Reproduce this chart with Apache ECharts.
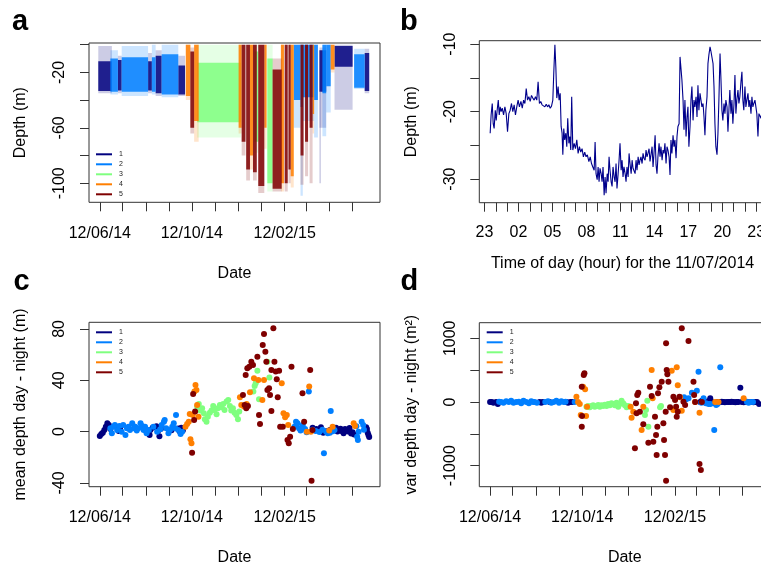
<!DOCTYPE html>
<html>
<head>
<meta charset="utf-8">
<script src="https://cdn.jsdelivr.net/npm/echarts@6/dist/echarts.min.js"></script>
<style>
  html, body { margin: 0; padding: 0; background: #fff; }
  #main { width: 761px; height: 568px; }
</style>
</head>
<body>
<div id="main"></div>
<script>
(function () {
  'use strict';

  // behaviour classes (jet palette, 5 colours)
  const classNames = ['1', '2', '3', '4', '5'];
  const classColors = ['#00007F', '#007FFF', '#7FFF7F', '#FF7F00', '#7F0000'];

  // date axis: days since 12/06/2014, ticks on the 12th of each month
  const dateTickDays = [0, 30, 61, 92, 122, 153, 183, 214, 245, 273, 304, 334];
  const dateLabelDays = [0, 122, 245];
  const dateLabelText = ['12/06/14', '12/10/14', '12/02/15'];

  // hour axis for panel b: minutes since 23:00 the day before
  const hourTickMinutes = [0, 60, 120, 180, 240, 300, 360, 420, 480, 540, 600, 660, 720,
    780, 840, 900, 960, 1020, 1080, 1140, 1200, 1260, 1320, 1380, 1440];
  const hourLabelMinutes = [0, 180, 360, 540, 720, 900, 1080, 1260, 1440];
  const hourLabelText = ['23', '02', '05', '08', '11', '14', '17', '20', '23'];

  // panel a: depth envelopes per class
  // [startDay, endDay, sparseTop, sparseBottom, denseTop, denseBottom] (m)
  const diveBands1 = [
    [-2, 16, -1, -35, -12, -33.5], [24, 29, -8, -35, -11, -33], [64, 69, -6, -35, -12, -33],
    [74, 82, -4, -37, -8, -35], [104, 113, -8, -37, -15, -36], [291, 300, -2, -60, -4, -34],
    [291, 293, -34, -100, -34, -34], [311, 335, 0, -47, -1, -16], [351, 357, -3, -35, -6, -33.5]
  ];
  const diveBands2 = [
    [14, 24, -4, -36, -10, -34], [29, 64, -1, -37, -9, -34], [69, 74, 0, -36, -9, -34],
    [82, 104, 0, -38, -7, -36], [257, 266, 0, -60, 0, -40], [266, 269, 0, -109, 0, -45],
    [269, 284, 0, -55, 0, -38], [284, 289, 0, -67, 0, -40], [295, 300, 0, -66, 0, -35],
    [300, 306, 0, -49, 0, -30], [337, 351, -3, -32, -7, -31]
  ];
  const diveBands3 = [
    [129, 187, 0, -67, -13, -56], [205, 210, 0, -78, -5, -70], [222, 229, 0, -106, -10, -100]
  ];
  const diveBands4 = [
    [114, 120, 0, -40, 0, -37], [125, 131, 0, -70, 0, -55], [184, 188, 0, -64, 0, -60],
    [199, 203, 0, -90, 0, -80], [218, 221, 0, -75, 0, -60], [240, 244, 0, -106, 0, -100],
    [253, 257, 0, -103, 0, -95], [282, 284, 0, -64, 0, -50], [306, 311, 0, -20, 0, -18]
  ];
  const diveBands5 = [
    [120, 125, -2, -64, -5, -60], [188, 193, 0, -80, 0, -70], [194, 199, 0, -98, 0, -90],
    [203, 208, 0, -98, 0, -92], [210, 218, 0, -107, 0, -102], [229, 241, -10, -106, -18, -104],
    [245, 249, 0, -106, 0, -100], [250, 253, 0, -100, 0, -90], [266, 270, 0, -101, 0, -80],
    [272, 276, 0, -95, 0, -70], [278, 282, 0, -100, 0, -60]
  ];

  // panel b: depth (m) on 11/07/2014, [minutes since 23:00, depth]
  const dayTrack = [
    [30, -23.2], [35, -20.5], [41, -18.8], [46, -21.8], [51, -22.5], [57, -19.8], [62, -21.3], [67, -19.8],
    [73, -18.3], [78, -20.5], [83, -19.3], [88, -20], [94, -19.5], [101, -20.5], [108, -19.3], [115, -20.3],
    [122, -23], [129, -20.3], [136, -19.8], [143, -18.8], [150, -20], [157, -19], [164, -20.5], [171, -19.3],
    [178, -18.3], [185, -19.3], [193, -18.5], [200, -19.5], [207, -18.3], [214, -18.8], [221, -16.6], [228, -18.3],
    [235, -17.8], [242, -18.5], [249, -17.6], [256, -18], [263, -18.3], [270, -17.8], [277, -18.3], [284, -15.6],
    [291, -18.8], [298, -18.5], [305, -19], [313, -18.8], [320, -19.3], [327, -18.9], [334, -19.3], [341, -19],
    [348, -19.5], [355, -19.2], [362, -18.3], [367, -14.3], [373, -10.1], [378, -13.4], [383, -18], [390, -16.3],
    [395, -18.3], [401, -17.3], [406, -22.2], [411, -23.2], [415, -26.4], [420, -22.5], [425, -24.2], [431, -23.2],
    [436, -25.2], [441, -21], [447, -24.7], [452, -23.7], [457, -25.7], [462, -17.8], [468, -25.7], [475, -24.7],
    [482, -25.5], [489, -24.2], [496, -26.2], [503, -25.2], [510, -26], [517, -25.5], [524, -26.7], [531, -26],
    [538, -26.7], [545, -26.4], [553, -27.4], [560, -26.7], [567, -27.7], [574, -28.2], [581, -28.7], [586, -24.5],
    [591, -29.2], [597, -30.1], [602, -28.2], [607, -30.4], [612, -28.4], [618, -29.2], [623, -30.4], [628, -28.2],
    [634, -32.4], [639, -29.7], [644, -32.1], [650, -29.2], [655, -30.4], [660, -26.7], [665, -28.7], [671, -30.4],
    [676, -31.1], [681, -28.2], [687, -29.7], [692, -30.4], [697, -27.7], [702, -31.4], [708, -29.2], [713, -27.2],
    [718, -24.7], [724, -28.7], [729, -27.2], [734, -29.7], [739, -28.2], [745, -29.2], [750, -30.4], [755, -28.2],
    [761, -29.7], [766, -26.2], [771, -27.7], [777, -29.2], [782, -27.2], [787, -28.4], [792, -28.2], [798, -29.2],
    [803, -27.2], [808, -28.7], [814, -26.7], [819, -27.9], [824, -27.2], [829, -26.7], [835, -27.7], [840, -26.2],
    [845, -26.9], [851, -27.2], [856, -25.7], [861, -26.7], [866, -26.2], [872, -25.5], [877, -27.4], [882, -27.2],
    [888, -25.2], [893, -28.2], [898, -26.2], [904, -23.5], [909, -27.9], [914, -29.2], [919, -26.7], [925, -24.7],
    [930, -26.7], [935, -25.2], [941, -27.2], [946, -25.7], [951, -26.2], [956, -24.7], [962, -27.7], [967, -25.2],
    [972, -25.7], [978, -26.7], [983, -29.4], [988, -24.2], [993, -26.2], [999, -23.5], [1004, -25.2], [1009, -24.2],
    [1015, -26.9], [1020, -23.7], [1025, -22.2], [1031, -21.8], [1036, -11.9], [1041, -12.1], [1046, -15.3], [1052, -18.3],
    [1057, -22.7], [1062, -18.3], [1068, -23.7], [1073, -20.8], [1078, -19.3], [1083, -25.2], [1089, -22.2], [1094, -18.3],
    [1099, -16.3], [1105, -21.3], [1110, -18.3], [1115, -19.3], [1121, -17.8], [1126, -20.8], [1131, -16.1], [1136, -19.8],
    [1142, -17.3], [1147, -18.3], [1152, -19.3], [1158, -18.8], [1163, -20.8], [1168, -23.5], [1173, -19.8], [1179, -17.8],
    [1184, -12.9], [1189, -11.6], [1195, -10.4], [1200, -11.1], [1205, -10.9], [1211, -12.9], [1216, -16.3], [1221, -21.8],
    [1226, -25.2], [1232, -26.4], [1237, -23.2], [1242, -18.3], [1248, -11.4], [1253, -15.3], [1258, -19.8], [1263, -21.3],
    [1269, -18.8], [1274, -20.3], [1279, -18.3], [1285, -19.3], [1290, -23], [1295, -19.8], [1300, -16.8], [1306, -20.3],
    [1311, -18.3], [1316, -21.8], [1322, -18.8], [1327, -14.6], [1332, -20.3], [1337, -18.3], [1343, -16.8], [1348, -18.8],
    [1353, -17.8], [1359, -15.6], [1364, -14.1], [1369, -18.3], [1374, -19.8], [1380, -16.3], [1385, -19.3], [1390, -18.3],
    [1396, -17.3], [1401, -19.3], [1406, -18.3], [1412, -20.3], [1417, -17.8], [1422, -19.3], [1427, -18.8], [1433, -18.3],
    [1438, -19.3], [1443, -20.3], [1449, -23.7], [1454, -20.3], [1459, -20.5], [1465, -21], [1470, -20]
  ];

  // panel c: mean depth day - night (m), [day, value]
  const meanDiff1 = [
    [0, -3.4], [2, -1.8], [4, -0.8], [6, 1.3], [8, 3.9], [10, 6.5], [12, 5.2], [14, 2], [24, 2.1], [25, 0.5],
    [27, 3.2], [66, -2.6], [67, 1.2], [70, 3.1], [75, 4.2], [77, 0.4], [79, -3.6], [81, 2.2], [95, 1.1], [104, 2.4],
    [106, 0.2], [108, 3], [110, 0.8], [282, 3], [287, 2], [290, 1.2], [293, 3.4], [296, -0.8], [300, 0.4], [305, 1.2],
    [311, 2.4], [313, 3.1], [315, 0.2], [317, 1.4], [319, 2.2], [321, 0.3], [323, -1.2], [325, 2], [327, 1], [329, 0.2],
    [331, 2.8], [333, -1.5], [335, -0.4], [337, -2.2], [353, 3.4], [354, 2], [355, -0.8], [356, -2.6], [357, -4.2]
  ];
  const meanDiff2 = [
    [14, 2.6], [16, -1.3], [18, 3.9], [20, 5.2], [23, 1.3], [26, 4.4], [29, 0], [31, 5.2], [34, -2.6], [36, 2.6],
    [38, 3.9], [40, 1.3], [43, 6.5], [45, 2.6], [47, 3.9], [49, 0.8], [51, 2.6], [54, 6.5], [56, 4.4], [58, 1.3],
    [60, 3.9], [62, -1.3], [65, 1.3], [71, 3.9], [76, 0], [80, 1.8], [82, 5.2], [85, 7.8], [86, 9.1], [88, 2.6],
    [91, -1.3], [93, 1.3], [96, 3.9], [98, 6.5], [100, 2.6], [101, 13], [104, 1.3], [107, -1.8], [109, 0], [258, 3.9],
    [260, 7.8], [262, 6.5], [264, 2.6], [266, 0.8], [269, 5.2], [272, 2.1], [274, -0.5], [277, 31.2], [282, 1.5], [286, 0.5],
    [291, -0.2], [295, 1.5], [297, -16.9], [300, 0], [302, -1.3], [305, -0.8], [306, 16.1], [309, 0.4], [311, 1.3], [340, 4.2],
    [341, -3.9], [342, -6.5], [343, 0], [347, 7.8], [349, 5.2], [350, 1.5]
  ];
  const meanDiff3 = [
    [129, 19.5], [131.2, 21.6], [133.4, 16.4], [135.6, 18.2], [137.9, 14.3], [139.2, 9.6], [141.4, 7.8], [143.2, 11.7],
    [145.8, 14.8], [148, 16.4], [150.3, 20], [152, 16.9], [154.7, 13.5], [156.5, 18.2], [159.1, 20.8], [161.3, 19],
    [163.6, 21.6], [165.3, 16.9], [168, 23.4], [170.2, 24.7], [172.4, 20], [174.2, 16.4], [176.4, 18.2], [178.6, 14.8],
    [180.9, 13], [183.1, 9.6], [184.8, 15.6], [203.5, 31.2], [205.2, 35.6], [206.6, 37.7], [208.8, 47.5], [211, 25.2],
    [222.1, 54.5], [224.7, 42.1]
  ];
  const meanDiff4 = [
    [113.5, 3.9], [115.7, 6], [117.9, 7.8], [119.2, 13.8], [120.1, -6], [121.5, -9.1], [123.2, 13], [125.4, 31.2],
    [126.8, 36.4], [128.1, 32.5], [129, 20.8], [130.8, 11.7], [185.7, 26.8], [187.5, 20.8], [191, 19.5], [194.6, 21.6],
    [199, 30.6], [204.3, 41.6], [210.1, 40.3], [215.4, 24.7], [217.6, 40.3], [241.1, 37.7], [243.4, 14.3], [245.6, 11.2],
    [247.8, 13], [249.6, 5.2], [274.4, 0], [277.5, 35.1], [279.7, 0], [304, 0.8], [308.5, 3.9], [336.4, 6.5], [338.2, 4.4]
  ];
  const meanDiff5 = [
    [122.3, -16.4], [123.7, 29.4], [125, 9.1], [126.3, 15.6], [189.7, 28.6], [191.9, 20.8], [194.1, 18.2], [196.3, 20],
    [193.3, 44.2], [195.5, 49.4], [198.1, 50.6], [200.8, 54.5], [203, 51.9], [208.8, 58.4], [211, 13], [212.3, 6],
    [215.9, 67.5], [217.6, 76.1], [219.4, 62.3], [220.7, 54.5], [222.1, 32.5], [224.3, 33.8], [225.6, 28.6], [227.4, 48],
    [230, 80.5], [231.4, 54.5], [233.2, 46.8], [234.5, 40.8], [235.8, 26.8], [237.6, 47.5], [227.4, 16.1], [239, 3.9],
    [242.5, 3.9], [248.7, -6.5], [250.4, -9.1], [252.2, -3.9], [254, 50.6], [255.8, 2.1], [268.6, 29.9], [270.8, 7.8],
    [278.8, 48], [280.6, -38.2], [281.9, 1.3]
  ];

  // panel d: var depth day - night (m2), [day, value]
  const varDiff1 = [
    [0, 0], [2.2, 0], [4.4, -10], [8, 0], [10.2, -31], [65.6, 0], [67.8, -10], [70, 0], [78.9, 0], [101, 0],
    [103.3, -10], [106.4, 0], [109, 0], [278.4, 0], [280.6, 21], [282, 5], [284, -5], [285, 0], [287, 0], [289, 10],
    [291.7, 58], [294, 0], [298.3, -21], [300, -5], [303, 0], [305, 0], [307, 5], [309.4, 0], [311, -5], [313.8, 0],
    [316, 0], [318.3, 0], [320, 5], [322.7, 0], [325, -5], [327.1, 0], [329, 0], [331.6, 225], [333.8, 0], [336, -5],
    [338.2, 0], [340, 5], [345, 0], [349, -5], [351.5, 0], [353.7, 0], [356.4, -31]
  ];
  const varDiff2 = [
    [12, 5], [14.6, 0], [17.7, -10], [21.3, 10], [24.8, 0], [27.9, 21], [31, -10], [34.6, 0], [38.1, 5], [41.2, -21],
    [44.3, 21], [47.9, 0], [51.4, -21], [54.5, 10], [57, 0], [59, 0], [62.1, -10], [73.1, 0], [76.7, 10], [81.1, -10],
    [84.2, 0], [87.8, 21], [91.3, -10], [94.4, 10], [97.5, 0], [100, 5], [112.1, 0], [257, 73], [259.8, 42], [262.9, 58],
    [267.4, 147], [274, 178], [276.2, 476], [280, -10], [282.9, 58], [286, -20], [289.5, -31], [292, -31], [297, -440],
    [299.6, -47], [301.4, -31], [305, 545], [340.4, 0], [342.6, -10], [344.9, 0], [348.4, 0]
  ];
  const varDiff3 = [
    [127.7, -73], [129.9, -63], [132.1, -84], [134.3, -63], [136.5, -52], [138.7, -73], [141, -63], [143.2, -47],
    [145.4, -73], [147.6, -52], [149.8, -63], [152, -42], [154.3, -63], [156.5, -31], [158.7, -52], [160.9, -21],
    [163.1, -31], [165.3, -52], [167.6, -10], [169.8, -73], [172, -31], [174.2, 21], [176.4, -21], [178.6, -52],
    [180.9, -84], [183.1, -63], [205.2, -204], [206.6, -126], [208.3, 21], [209.7, -387], [225.2, -84], [226.5, -63]
  ];
  const varDiff4 = [
    [114.4, 84], [116.6, 0], [118.8, -31], [120.1, -204], [123.2, 241], [125.9, 199], [127.2, -220], [128.5, -73],
    [186.2, -73], [187.5, -246], [189.7, -152], [200.8, -440], [203, -73], [214.1, 503], [215.4, 58], [240.7, 492],
    [242.9, -126], [247.3, 545], [248.7, 262], [251.8, 73], [254, -136], [271.7, 0], [277.5, -168], [298.3, 0],
    [302.7, 0], [336, 58]
  ];
  const varDiff5 = [
    [121.5, 241], [124.1, 424], [125, 450], [121.9, -220], [121.5, -387], [191.9, -728], [193.3, -21], [195, 110],
    [196.4, 147], [194.1, -178], [198.5, -152], [203, -351], [209.7, -639], [211.9, 241], [214.1, 94], [216.3, -623],
    [218.5, -230], [219.9, -518], [220.7, -832], [221.6, -387], [222.5, 136], [224.3, 230], [227.4, 319], [229.6, -335],
    [230.5, -597], [231.8, -832], [232.7, -152], [233.2, 921], [234, 503], [234.9, 435], [236.3, 319], [233.2, -1236],
    [238.5, -84], [242.9, 84], [245.1, 31], [246.5, -73], [247.3, -230], [248.7, -152], [250.9, 84], [254, 1157],
    [256.2, 5], [258.4, -47], [262.9, 958], [269.5, 319], [270.4, 110], [271.7, 0], [277.5, -974], [279.3, -1068],
    [280.6, 0]
  ];

  const diveBands = [diveBands1, diveBands2, diveBands3, diveBands4, diveBands5];
  const meanDiff = [meanDiff1, meanDiff2, meanDiff3, meanDiff4, meanDiff5];
  const varDiff = [varDiff1, varDiff2, varDiff3, varDiff4, varDiff5];

  const FONT = "'Liberation Sans', Arial, Helvetica, sans-serif";
  const INK = '#000';
  const FRAME = '#333';

  function grid(left, top, width, height) {
    return {
      left: left, top: top, width: width, height: height,
      show: true, borderColor: FRAME, borderWidth: 1, backgroundColor: 'transparent',
      containLabel: false, outerBoundsMode: 'none'
    };
  }

  function nameStyle(extra) {
    return Object.assign({ fontFamily: FONT, fontSize: 16, color: INK }, extra || {});
  }

  const plainNumber = function (v) { return String(v); };

  function dateAxis(gridIndex) {
    return {
      type: 'value', gridIndex: gridIndex, min: -14.3, max: 371.3,
      name: 'Date', nameLocation: 'middle', nameGap: 63, nameMoveOverlap: false,
      nameTextStyle: nameStyle(),
      axisLine: { show: false, onZero: false },
      axisTick: { show: true, inside: false, length: 9, customValues: dateTickDays, lineStyle: { color: FRAME, width: 1 } },
      axisLabel: {
        customValues: dateLabelDays, margin: 23, fontFamily: FONT, fontSize: 16, color: INK,
        formatter: function (v) { return dateLabelText[dateLabelDays.indexOf(Math.round(v))] || ''; }
      },
      splitLine: { show: false }
    };
  }

  function valueAxis(gridIndex, min, max, ticks, labels, name) {
    return {
      type: 'value', gridIndex: gridIndex, min: min, max: max,
      name: name, nameLocation: 'middle', nameGap: 60, nameMoveOverlap: false,
      nameTextStyle: nameStyle(),
      axisLine: { show: false, onZero: false },
      axisTick: { show: true, inside: false, length: 9, customValues: ticks, lineStyle: { color: FRAME, width: 1 } },
      axisLabel: { customValues: labels, rotate: 90, margin: 21, fontFamily: FONT, fontSize: 16, color: INK, formatter: plainNumber },
      splitLine: { show: false }
    };
  }

  function classLegend(left, top) {
    return {
      data: classNames, orient: 'vertical', left: left, top: top, padding: 0,
      icon: 'rect', itemWidth: 16, itemHeight: 2, itemGap: 0, selectedMode: false,
      textStyle: { fontFamily: FONT, fontSize: 7, color: '#222', lineHeight: 10, padding: [0, 0, 0, 2] }
    };
  }

  function renderBand(params, api) {
    const x0 = api.value(0);
    const x1 = api.value(1);
    const s0 = api.coord([x0, api.value(2)]);
    const s1 = api.coord([x1, api.value(3)]);
    const d0 = api.coord([x0, api.value(4)]);
    const d1 = api.coord([x1, api.value(5)]);
    const color = api.visual('color');
    return {
      type: 'group',
      children: [
        { type: 'rect', shape: { x: s0[0], y: s0[1], width: s1[0] - s0[0], height: s1[1] - s0[1] },
          style: { fill: color, opacity: 0.2 } },
        { type: 'rect', shape: { x: d0[0], y: d0[1], width: d1[0] - d0[0], height: Math.max(d1[1] - d0[1], 0) },
          style: { fill: color, opacity: 0.85 } }
      ]
    };
  }

  const series = [];
  classNames.forEach(function (name, i) {
    series.push({
      name: name, type: 'scatter', xAxisIndex: 2, yAxisIndex: 2,
      data: meanDiff[i], symbolSize: 6,
      itemStyle: { color: classColors[i], opacity: 1, borderWidth: 0 }
    });
  });
  classNames.forEach(function (name, i) {
    series.push({
      name: name, type: 'custom', xAxisIndex: 0, yAxisIndex: 0, clip: true,
      data: diveBands[i], renderItem: renderBand,
      encode: { x: [0, 1], y: [2, 3] },
      itemStyle: { color: classColors[i] }
    });
  });
  series.push({
    name: 'track', type: 'line', xAxisIndex: 1, yAxisIndex: 1,
    data: dayTrack, showSymbol: false, symbol: 'none',
    lineStyle: { color: '#00008B', width: 1.1 }
  });
  classNames.forEach(function (name, i) {
    series.push({
      name: name, type: 'scatter', xAxisIndex: 3, yAxisIndex: 3,
      data: varDiff[i], symbolSize: 6,
      itemStyle: { color: classColors[i], opacity: 1, borderWidth: 0 }
    });
  });

  const hourAxis = {
    type: 'value', gridIndex: 1, min: -27.6, max: 1527.6,
    name: 'Time of day (hour) for the 11/07/2014', nameLocation: 'middle', nameGap: 52.5,
    nameMoveOverlap: false,
    nameTextStyle: nameStyle({ padding: [0, 7, 0, 0] }),
    axisLine: { show: false, onZero: false },
    axisTick: { show: true, inside: false, length: 9, customValues: hourTickMinutes, lineStyle: { color: FRAME, width: 1 } },
    axisLabel: {
      customValues: hourLabelMinutes, margin: 22, fontFamily: FONT, fontSize: 16, color: INK,
      formatter: function (v) { return hourLabelText[hourLabelMinutes.indexOf(Math.round(v))] || ''; }
    },
    splitLine: { show: false }
  };

  function panelLetter(text, x, y) {
    return {
      type: 'text', x: x, y: y, silent: true,
      style: { text: text, font: 'bold 29px ' + FONT, fill: '#000', verticalAlign: 'middle', align: 'left' }
    };
  }

  const chart = echarts.init(document.getElementById('main'), null, { renderer: 'canvas' });
  chart.setOption({
    animation: false,
    backgroundColor: '#fff',
    textStyle: { fontFamily: FONT },
    grid: [
      grid(89, 43, 291, 159.3),
      grid(479.3, 40.7, 293.5, 162),
      grid(89, 322.3, 291, 164.4),
      grid(479.3, 322.7, 291, 164)
    ],
    xAxis: [dateAxis(0), hourAxis, dateAxis(2), dateAxis(3)],
    yAxis: [
      valueAxis(0, -113.7, 1.2, [-100, -80, -60, -40, -20, 0], [-100, -60, -20], 'Depth (m)'),
      valueAxis(1, -33.5, -9.5, [-30, -25, -20, -15, -10], [-30, -20, -10], 'Depth (m)'),
      valueAxis(2, -42.9, 85.2, [-40, 0, 40, 80], [-40, 0, 40, 80], 'mean depth day - night (m)'),
      valueAxis(3, -1330, 1245, [-1000, -500, 0, 500, 1000], [-1000, 0, 1000], 'var depth day - night (m\u00B2)')
    ],
    legend: [classLegend(96, 149.3), classLegend(96, 327.3), classLegend(486.7, 327.3)],
    tooltip: { show: false },
    series: series,
    graphic: [
      panelLetter('a', 12, 22),
      panelLetter('b', 400, 22),
      panelLetter('c', 13.5, 282),
      panelLetter('d', 400.5, 282)
    ]
  });
})();
</script>
</body>
</html>
